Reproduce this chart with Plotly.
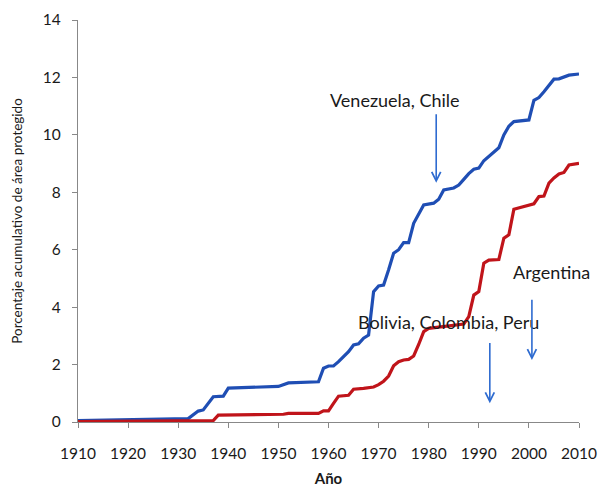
import plotly.graph_objects as go

# Blue series (upper curve)
blue_years = [1910, 1915, 1920, 1925, 1932, 1934, 1935, 1937, 1939, 1940, 1945, 1950, 1952, 1958,
              1959, 1960, 1961, 1962, 1964, 1965, 1966, 1967, 1968, 1969, 1970, 1971, 1972, 1973,
              1974, 1975, 1976, 1977, 1979, 1980, 1981, 1982, 1983, 1985, 1986, 1987, 1988, 1989,
              1990, 1991, 1992, 1993, 1994, 1995, 1996, 1997, 1999, 2000, 2001, 2002, 2003, 2004,
              2005, 2006, 2007, 2008, 2010]
blue_values = [0.05, 0.07, 0.08, 0.10, 0.12, 0.38, 0.42, 0.88, 0.90, 1.18, 1.21, 1.24, 1.36, 1.40,
               1.87, 1.95, 1.95, 2.10, 2.45, 2.68, 2.72, 2.92, 3.03, 4.54, 4.74, 4.77, 5.30, 5.88,
               6.00, 6.25, 6.25, 6.92, 7.56, 7.60, 7.62, 7.76, 8.08, 8.15, 8.25, 8.45, 8.65, 8.80,
               8.84, 9.10, 9.25, 9.40, 9.55, 10.00, 10.30, 10.46, 10.50, 10.52, 11.20, 11.30, 11.50, 11.70,
               11.94, 11.95, 12.03, 12.08, 12.12]

# Red series (lower curve)
red_years = [1910, 1920, 1930, 1937, 1938, 1950, 1951, 1952, 1958, 1959, 1960, 1961, 1962, 1964,
             1965, 1967, 1969, 1970, 1971, 1972, 1973, 1974, 1975, 1976, 1977, 1978, 1979, 1980,
             1983, 1987, 1988, 1989, 1990, 1991, 1992, 1994, 1995, 1996, 1997, 1999, 2001, 2002,
             2003, 2004, 2005, 2006, 2007, 2008, 2010]
red_values = [0.01, 0.02, 0.04, 0.05, 0.24, 0.25, 0.27, 0.30, 0.30, 0.39, 0.39, 0.65, 0.90, 0.93,
              1.14, 1.17, 1.22, 1.30, 1.42, 1.60, 1.96, 2.10, 2.16, 2.18, 2.30, 2.70, 3.15, 3.26,
              3.32, 3.41, 3.67, 4.42, 4.54, 5.53, 5.64, 5.66, 6.40, 6.52, 7.41, 7.50, 7.60, 7.85,
              7.87, 8.32, 8.50, 8.64, 8.69, 8.95, 9.01]

x_ticks = [1910, 1920, 1930, 1940, 1950, 1960, 1970, 1980, 1990, 2000, 2010]
y_ticks = [0, 2, 4, 6, 8, 10, 12, 14]

# Annotation labels: (text, x, y) and arrows: (x, tail y, tip y)
labels = [("Venezuela, Chile", 1973.3, 11.22),
          ("Argentina", 2004.6, 5.24),
          ("Bolivia, Colombia, Peru", 1983.9, 3.49)]
arrows = [(1981.5, 10.77, 8.33),
          (2000.6, 4.31, 2.16),
          (1992.2, 2.80, 0.65)]

FONT = "Lato"
BLUE = "#1F4EB4"
RED = "#C0141A"
TXT = "#1a1a1a"

fig = go.Figure()
fig.add_trace(go.Scatter(x=blue_years, y=blue_values, mode="lines",
                         line=dict(color=BLUE, width=3.2), showlegend=False))
fig.add_trace(go.Scatter(x=red_years, y=red_values, mode="lines",
                         line=dict(color=RED, width=3.2), showlegend=False))

for text, lx, ly in labels:
    fig.add_annotation(x=lx, y=ly, xref="x", yref="y", text=text, showarrow=False,
                       font=dict(family=FONT, size=18, color=TXT))
for ax_, y0, y1 in arrows:
    fig.add_annotation(x=ax_, y=y1, ax=ax_, ay=y0, xref="x", yref="y", axref="x", ayref="y",
                       text="", showarrow=True, arrowhead=5, arrowwidth=1.6, arrowsize=1.1,
                       arrowcolor="#2E6BD0", standoff=0, startstandoff=0)

fig.update_layout(
    width=600, height=487,
    margin=dict(l=78, r=21, t=20, b=65, autoexpand=False),
    plot_bgcolor="white", paper_bgcolor="white",
    font=dict(family=FONT, color=TXT),
    xaxis=dict(range=[1910, 2010], tickvals=x_ticks, ticktext=[str(v) for v in x_ticks],
               showgrid=False, zeroline=False, showline=True, linecolor="#888888", linewidth=1.2,
               ticks="outside", ticklen=5, tickcolor="#888888", automargin=False,
               ticklabelstandoff=12,
               tickfont=dict(family=FONT, size=15.5, color=TXT),
               title=dict(text="<b>Año</b>", font=dict(family=FONT, size=15, color=TXT),
                          standoff=14)),
    yaxis=dict(range=[0, 14], tickvals=y_ticks, showgrid=False, zeroline=False,
               showline=True, linecolor="#888888", linewidth=1.2,
               ticks="outside", ticklen=5, tickcolor="#888888", automargin=False,
               ticklabelstandoff=8,
               tickfont=dict(family=FONT, size=15.5, color=TXT),
               title=dict(text="Porcentaje acumulativo de área protegido",
                          font=dict(family=FONT, size=13.5, color=TXT), standoff=17)),
)

# Remove the default page margin so the 600x487 figure fills the window exactly.
fig.write_html("out.html", config={"displayModeBar": False},
               post_script="document.body.style.margin='0';document.body.style.overflow='hidden';")
